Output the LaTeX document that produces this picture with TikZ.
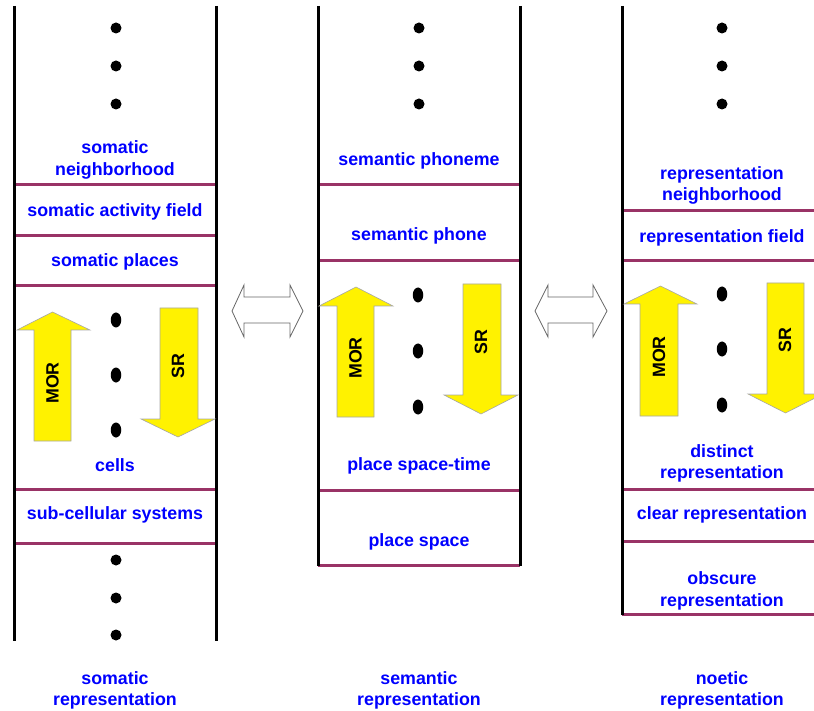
\documentclass[tikz,border=0pt]{standalone}
\usepackage{fontspec}
\setmainfont{Liberation Sans}
\usepackage{tikz}
\usetikzlibrary{shapes.geometric, positioning}

\definecolor{levelred}{RGB}{153,51,102}

\begin{document}
\begin{tikzpicture}[x=1pt, y=-1pt,
    % Styles
    wall/.style={line width=3pt, draw=black},
    level/.style={line width=3pt, draw=levelred},
    lbl/.style={
        text=blue,
        font=\fontsize{17.8}{21.5}\selectfont\bfseries,
        align=center,
        inner sep=0pt,
        yshift=-2pt
    },
    flow/.style={fill=yellow, draw=gray!70, line width=0.6pt},
    flowtext/.style={
        font=\fontsize{17.8}{21.5}\selectfont\bfseries,
        rotate=90,
        inner sep=0pt
    },
    link/.style={fill=white, draw=gray!80!black, line width=0.8pt},
    dot/.style={circle, fill=black, inner sep=0pt, minimum size=11pt},
    bigdot/.style={ellipse, fill=black, inner sep=0pt, minimum width=10.5pt, minimum height=15pt}
]

\useasboundingbox (0,0) rectangle (814,711);
\clip (0,0) rectangle (814,711);

% Level lines
\foreach \y in {185,236,286,489,543} \draw[level] (14,\y) -- (216,\y);
\foreach \y in {185,261,490,565} \draw[level] (318,\y) -- (520,\y);
\foreach \y in {211,261,489,541,614} \draw[level] (622,\y) -- (830,\y);

% Column walls
\draw[wall] (14,6) -- (14,641);
\draw[wall] (216,6) -- (216,641);
\draw[wall] (318,6) -- (318,566);
\draw[wall] (520,6) -- (520,566);
\draw[wall] (622,6) -- (622,615);

% Dots
\foreach \x/\c in {116/a,419/b,722/c} {
    \node[dot] (top1\c) at (\x,28) {};
    \node[dot] (top2\c) at (\x,66) {};
    \node[dot] (top3\c) at (\x,104) {};
}
\node[dot] (low1a) at (116,560) {};
\node[dot] (low2a) at (116,598) {};
\node[dot] (low3a) at (116,635) {};
\node[bigdot] (mid1a) at (116,320) {};
\node[bigdot] (mid2a) at (116,375) {};
\node[bigdot] (mid3a) at (116,430) {};
\node[bigdot] (mid1b) at (418,295) {};
\node[bigdot] (mid2b) at (418,351) {};
\node[bigdot] (mid3b) at (418,407) {};
\node[bigdot] (mid1c) at (722,294) {};
\node[bigdot] (mid2c) at (722,349) {};
\node[bigdot] (mid3c) at (722,405) {};

% MOR arrows (up)
\draw[flow] (34,441) -- (34,330) -- (17,330) -- (52.5,312) -- (90,330) -- (71,330) -- (71,441) -- cycle;
\draw[flow] (337,417) -- (337,306) -- (319,306) -- (356,287) -- (393,306) -- (374,306) -- (374,417) -- cycle;
\draw[flow] (640,416) -- (640,304) -- (624,304) -- (660.5,286) -- (697,304) -- (678,304) -- (678,416) -- cycle;
\node[flowtext] (mora) at (52.5,383) {MOR};
\node[flowtext] (morb) at (355.5,358) {MOR};
\node[flowtext] (morc) at (659,357) {MOR};

% SR arrows (down)
\draw[flow] (160,308) -- (198,308) -- (198,419) -- (215,419) -- (178,437) -- (141,419) -- (160,419) -- cycle;
\draw[flow] (463,284) -- (501,284) -- (501,395) -- (518,395) -- (481,414) -- (444,395) -- (463,395) -- cycle;
\draw[flow] (767,283) -- (804,283) -- (804,394) -- (823,394) -- (785.5,413) -- (748,394) -- (767,394) -- cycle;
\node[flowtext] (sra) at (178,366) {SR};
\node[flowtext] (srb) at (481,342) {SR};
\node[flowtext] (src) at (785,340) {SR};

% Correspondence arrows
\draw[link] (232,311) -- (244,285) -- (244,297) -- (290,297) -- (290,285) -- (303,311)
    -- (290,337) -- (290,323) -- (244,323) -- (244,337) -- cycle;
\draw[link] (535,311) -- (548,285) -- (548,297) -- (593,297) -- (593,285) -- (607,311)
    -- (593,337) -- (593,323) -- (548,323) -- (548,337) -- cycle;

% Somatic column
\node[lbl] (somnb) at (115,158) {somatic\\neighborhood};
\node[lbl] (somfield) at (115,210) {somatic activity field};
\node[lbl] (somplaces) at (115,260) {somatic places};
\node[lbl] (cells) at (115,463) {cells};
\node[lbl] (subcell) at (115,513) {sub-cellular systems};
\node[lbl] (somrep) at (115,688.5) {somatic\\representation};

% Semantic column
\node[lbl] (phoneme) at (419,159) {semantic phoneme};
\node[lbl] (phone) at (419,234) {semantic phone};
\node[lbl] (spacetime) at (419,464) {place space-time};
\node[lbl] (space) at (419,540) {place space};
\node[lbl] (semrep) at (419,688.5) {semantic\\representation};

% Noetic column
\node[lbl] (repnb) at (722,183.5) {representation\\neighborhood};
\node[lbl] (repfield) at (722,236) {representation field};
\node[lbl] (distinct) at (722,461.5) {distinct\\representation};
\node[lbl] (clear) at (722,513) {clear representation};
\node[lbl] (obscure) at (722,589) {obscure\\representation};
\node[lbl] (noerep) at (722,688.5) {noetic\\representation};

\end{tikzpicture}
\end{document}
